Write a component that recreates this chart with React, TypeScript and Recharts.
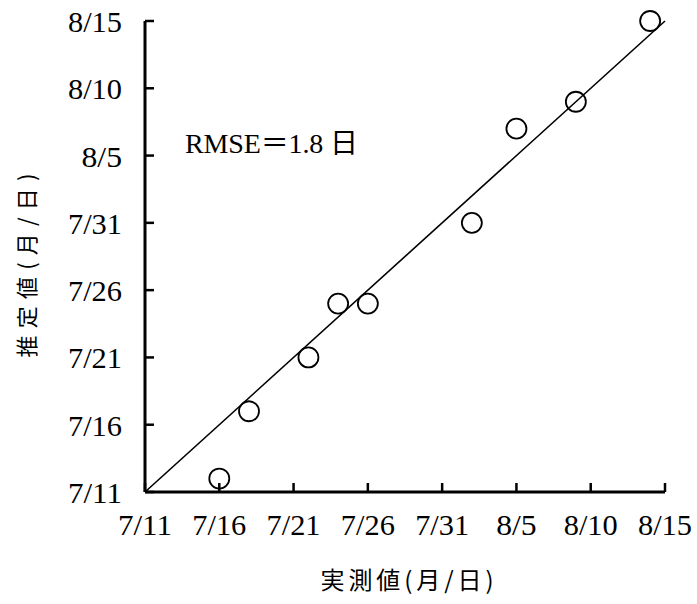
import { ScatterChart, Scatter, XAxis, YAxis, ReferenceLine, Label, Customized } from "recharts";

// axis ticks, as day offsets from 7/11
const tickDays = [0, 5, 10, 15, 20, 25, 30, 35];
const tickLabels = ["7/11", "7/16", "7/21", "7/26", "7/31", "8/5", "8/10", "8/15"];

// observed vs estimated dates (M/D)
const observed = ["7/16", "7/18", "7/22", "7/24", "7/26", "8/2", "8/5", "8/9", "8/14"];
const estimated = ["7/12", "7/17", "7/21", "7/25", "7/25", "7/31", "8/7", "8/9", "8/15"];

const rmseText = "RMSE＝1.8 日";
const xTitle = "実測値(月/日)";
const yTitle = "推定値(月/日)";

const FONT = "'Liberation Serif', 'Noto Sans CJK JP', serif";
const CJK = "'Noto Sans CJK JP', sans-serif";

// days since 7/11 (July has 31 days)
const toDay = (s: string) => {
    const [m, d] = s.split("/").map(Number);
    return m === 7 ? d - 11 : d + 20;
};

const points = observed.map((o, i) => ({ x: toDay(o), y: toDay(estimated[i]) }));

// half-width cell of the original mincho font
const CELL = 13.5;

const XTick = ({ x, y, index }: any) => {
    const label = tickLabels[index];
    return (
        <g>
            <line x1={x} y1={y} x2={x} y2={y - 9} stroke="#000" strokeWidth={2.5} />
            <text x={x} y={y + 43} textAnchor="middle" fontSize={30} fontFamily={FONT} fill="#000"
                textLength={label.length * CELL} lengthAdjust="spacingAndGlyphs">
                {label}
            </text>
        </g>
    );
};

const YTick = ({ x, y, index }: any) => {
    const label = tickLabels[index];
    return (
        <g>
            <line x1={x} y1={y} x2={x + 9} y2={y} stroke="#000" strokeWidth={2.5} />
            <text x={x - 23} y={y + 11} textAnchor="end" fontSize={30} fontFamily={FONT} fill="#000"
                textLength={label.length * CELL} lengthAdjust="spacingAndGlyphs">
                {label}
            </text>
        </g>
    );
};

const Circle = ({ cx, cy }: any) => (
    <circle cx={cx} cy={cy} r={10} fill="none" stroke="#000" strokeWidth={1.8} />
);

const Rmse = () => (
    <text x={185} y={153} fontSize={28} fontFamily={FONT} fill="#000" textLength={173} lengthAdjust="spacing">
        {rmseText}
    </text>
);

export default function App() {
    return (
        <div style={{ width: 697, height: 604, background: "#fff" }}>
            <style>{`body { margin: 0; }`}</style>
            <ScatterChart width={697} height={604} margin={{ top: 21, right: 32, left: 0, bottom: 0 }}>
                <XAxis
                    type="number"
                    dataKey="x"
                    domain={[0, 35]}
                    ticks={tickDays}
                    interval={0}
                    height={112}
                    tickSize={0}
                    tickMargin={0}
                    tick={<XTick />}
                    axisLine={{ stroke: "#000", strokeWidth: 3 }}
                >
                    <Label
                        content={({ viewBox }: any) => (
                            <text
                                x={viewBox.x + viewBox.width / 2 + 2}
                                y={viewBox.y + 97}
                                textAnchor="middle"
                                fontSize={24}
                                fontFamily={CJK}
                                fill="#000"
                                textLength={173}
                                lengthAdjust="spacing"
                            >
                                {xTitle}
                            </text>
                        )}
                    />
                </XAxis>
                <YAxis
                    type="number"
                    dataKey="y"
                    domain={[0, 35]}
                    ticks={tickDays}
                    interval={0}
                    width={145}
                    tickSize={0}
                    tickMargin={0}
                    tick={<YTick />}
                    axisLine={{ stroke: "#000", strokeWidth: 3 }}
                >
                    <Label
                        content={({ viewBox }: any) => {
                            const cx = viewBox.x + 25;
                            const cy = viewBox.y + viewBox.height / 2 + 9;
                            return (
                                <text
                                    x={cx}
                                    y={cy}
                                    transform={`rotate(-90 ${cx} ${cy})`}
                                    textAnchor="middle"
                                    dominantBaseline="central"
                                    fontSize={22}
                                    fontFamily={CJK}
                                    fill="#000"
                                    textLength={184}
                                    lengthAdjust="spacing"
                                >
                                    {yTitle}
                                </text>
                            );
                        }}
                    />
                </YAxis>
                <ReferenceLine
                    segment={[{ x: 0, y: 0 }, { x: 35, y: 35 }]}
                    stroke="#000"
                    strokeWidth={1.6}
                    ifOverflow="visible"
                />
                <Scatter data={points} shape={<Circle />} isAnimationActive={false} />
                <Customized component={<Rmse />} />
            </ScatterChart>
        </div>
    );
}
